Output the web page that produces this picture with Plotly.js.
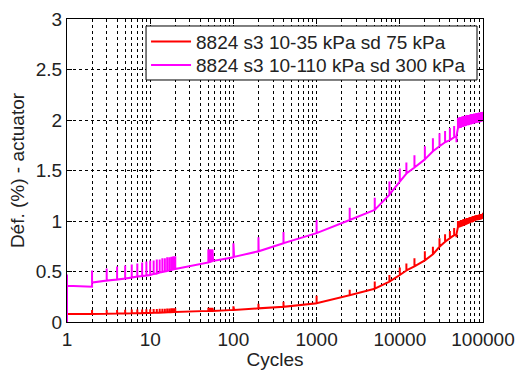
<!DOCTYPE html>
<html>
<head>
<meta charset="utf-8">
<script src="https://cdn.plot.ly/plotly-3.0.1.min.js"></script>
<style>html,body{margin:0;padding:0;background:#fff;}#chart{width:516px;height:370px;}</style>
</head>
<body>
<div id="chart"></div>
<script>
// ---- Data (cycles, base deformation %, spike top % or null) ----
const seriesNames = ["8824 s3 10-35 kPa sd 75 kPa", "8824 s3 10-110 kPa sd 300 kPa"];

const redCycles = [1, 2, 3, 4, 5, 6, 7, 8, 9, 10, 11, 12, 13, 14, 15, 16, 17, 18, 19, 20,
  50, 51, 52, 53, 54, 55, 56, 57, 100, 101, 102, 200, 201, 400, 1000, 2500, 5000, 7500, 10000, 12000,
  15000, 20000, 25000, 30000, 35000, 40000, 45000, 48000,
  50000, 52000, 54000, 56000, 58000, 60000, 62000, 64000, 66000, 68000, 70000, 72000, 74000, 76000,
  78000, 80000, 83000, 86000, 89000, 92000, 95000, 98000, 100000];
const redBase = [0.08, 0.08, 0.082, 0.084, 0.085, 0.086, 0.087, 0.088, 0.089, 0.09, 0.091, 0.092, 0.093, 0.094, 0.095, 0.096, 0.097, 0.098, 0.099, 0.10,
  0.11, 0.11, 0.11, 0.11, 0.11, 0.11, 0.11, 0.11, 0.12, 0.12, 0.12, 0.135, 0.135, 0.15, 0.185, 0.265, 0.33, 0.40, 0.465, 0.51,
  0.55, 0.61, 0.67, 0.745, 0.795, 0.83, 0.86, 0.87,
  0.94, 0.945, 0.95, 0.955, 0.96, 0.965, 0.97, 0.975, 0.98, 0.985, 0.99, 0.995, 1.0, 1.0,
  1.005, 1.01, 1.015, 1.02, 1.02, 1.025, 1.025, 1.03, 1.03];
const redSpike = [null, 0.12, 0.12, 0.12, 0.122, 0.123, 0.124, 0.125, 0.126, 0.127, 0.128, 0.129, 0.13, 0.131, 0.132, 0.133, 0.134, 0.135, 0.136, 0.137,
  0.14, 0.14, 0.14, 0.14, 0.14, 0.14, 0.14, 0.14, 0.155, 0.15, 0.15, 0.18, 0.17, 0.20, 0.26, 0.32, 0.40, 0.465, 0.54, 0.58,
  0.63, 0.70, 0.745, 0.83, 0.87, 0.90, 0.93, 0.84,
  1.0, 1.0, 1.01, 1.01, 1.02, 1.02, 1.025, 1.03, 1.03, 1.035, 1.04, 1.04, 1.045, 1.05,
  1.05, 1.055, 1.06, 1.06, 1.065, 1.07, 1.07, 1.075, 1.08];

const magCycles = [1, 1, 1, 2, 2, 3, 4, 5, 6, 7, 8, 9, 10, 11, 12, 13, 14, 15, 16, 17, 18, 19, 20,
  50, 51, 52, 53, 54, 55, 56, 57, 100, 101, 102, 200, 201, 400, 1000, 2500, 5000, 7500, 10000, 12000,
  15000, 20000, 25000, 30000, 35000, 40000, 45000, 48000,
  50000, 52000, 54000, 56000, 58000, 60000, 62000, 64000, 66000, 68000, 70000, 72000, 74000, 76000,
  78000, 80000, 83000, 86000, 89000, 92000, 95000, 98000, 100000];
const magBase = [0, 0.47, 0.36, 0.35, 0.39, 0.41, 0.42, 0.43, 0.44, 0.45, 0.455, 0.46, 0.465, 0.475, 0.48, 0.49, 0.495, 0.50, 0.505, 0.51, 0.515, 0.52, 0.525,
  0.59, 0.595, 0.595, 0.60, 0.60, 0.60, 0.605, 0.605, 0.64, 0.64, 0.645, 0.70, 0.70, 0.78, 0.88, 1.01, 1.11, 1.26, 1.39, 1.47,
  1.53, 1.61, 1.69, 1.74, 1.78, 1.80, 1.83, 1.84,
  1.92, 1.93, 1.93, 1.94, 1.94, 1.95, 1.95, 1.955, 1.96, 1.96, 1.965, 1.97, 1.97, 1.975,
  1.975, 1.98, 1.98, 1.985, 1.985, 1.99, 1.99, 1.995, 2.0];
const magSpike = [null, null, null, null, 0.51, 0.53, 0.55, 0.56, 0.57, 0.58, 0.59, 0.60, 0.61, 0.61, 0.62, 0.62, 0.63, 0.63, 0.64, 0.64, 0.645, 0.65, 0.65,
  0.72, 0.72, 0.72, 0.72, 0.72, 0.72, 0.72, 0.72, 0.78, 0.77, 0.77, 0.84, 0.83, 0.89, 1.01, 1.13, 1.23, 1.39, 1.52, 1.58,
  1.65, 1.74, 1.82, 1.87, 1.89, 1.92, 1.94, 1.78,
  2.02, 2.03, 2.03, 2.035, 2.04, 2.04, 2.045, 2.05, 2.05, 2.05, 2.055, 2.06, 2.06, 2.06,
  2.065, 2.065, 2.07, 2.07, 2.075, 2.075, 2.08, 2.08, 2.08];

const xTickVals = [1, 10, 100, 1000, 10000, 100000];
const xTickText = ["1", "10", "100", "1000", "10000", "100000"];
const yTickVals = [0, 0.5, 1, 1.5, 2, 2.5, 3];
const yTickText = ["0", "0.5", "1", "1.5", "2", "2.5", "3"];

// ---- Build polyline with spikes ----
function build(cyc, base, spike) {
  const x = [], y = [];
  for (let i = 0; i < cyc.length; i++) {
    x.push(cyc[i]); y.push(base[i]);
    if (spike[i] !== null) {
      x.push(cyc[i]); y.push(spike[i]);
      x.push(cyc[i]); y.push(base[i]);
    }
  }
  return {x, y};
}
const r = build(redCycles, redBase, redSpike);
const m = build(magCycles, magBase, magSpike);

// minor grid positions (2..9 in each decade)
const minorVals = [];
for (let d = 1; d <= 10000; d *= 10) for (let k = 2; k <= 9; k++) minorVals.push(k * d);

const FAM = "Liberation Sans, Arial, sans-serif";
const FS = 19;
const font = {family: FAM, size: FS, color: "#222"};

const traces = [
  {x: r.x, y: r.y, type: "scatter", mode: "lines", name: seriesNames[0], legend: "legend",
   line: {color: "#ff0000", width: 2}},
  {x: m.x, y: m.y, type: "scatter", mode: "lines", name: seriesNames[1], legend: "legend2",
   line: {color: "#ff00ff", width: 2}}
];

const legendCommon = {x: 0.19, xanchor: "left", yanchor: "middle",
  bgcolor: "rgba(0,0,0,0)", borderwidth: 0, itemwidth: 40, font: font};

const layout = {
  width: 516, height: 370,
  margin: {l: 67, r: 33, t: 19, b: 48},
  paper_bgcolor: "#fff", plot_bgcolor: "#fff",
  font: font,
  showlegend: true,
  legend: Object.assign({}, legendCommon, {y: 0.925}),
  legend2: Object.assign({}, legendCommon, {y: 0.848}),
  shapes: [{type: "rect", xref: "paper", yref: "paper", x0: 0.19, x1: 0.9856, y0: 0.7987, y1: 0.9769,
    line: {color: "#000", width: 1}, fillcolor: "#fff", layer: "above"}],
  xaxis: {type: "log", range: [0, 5],
    tickmode: "array", tickvals: xTickVals, ticktext: xTickText,
    showline: true, linecolor: "#000", linewidth: 1, mirror: "ticks",
    ticks: "inside", ticklen: 5, tickcolor: "#000",
    showgrid: true, gridcolor: "#000", griddash: "3px,3px", gridwidth: 1,
    minor: {tickmode: "array", tickvals: minorVals, ticks: "inside", ticklen: 3, tickcolor: "#000",
      showgrid: true, gridcolor: "#000", griddash: "3px,3px", gridwidth: 1},
    zeroline: false,
    title: {text: "Cycles", font: font, standoff: 4},
    tickfont: font},
  yaxis: {range: [0, 3],
    tickmode: "array", tickvals: yTickVals, ticktext: yTickText,
    showline: true, linecolor: "#000", linewidth: 1, mirror: "ticks",
    ticks: "inside", ticklen: 5, tickcolor: "#000",
    showgrid: true, gridcolor: "#000", griddash: "3px,3px", gridwidth: 1,
    zeroline: false,
    title: {text: "Déf. (%) - actuator", font: font, standoff: 6},
    tickfont: font}
};

Plotly.newPlot("chart", traces, layout, {displayModeBar: false, staticPlot: true});
</script>
</body>
</html>
